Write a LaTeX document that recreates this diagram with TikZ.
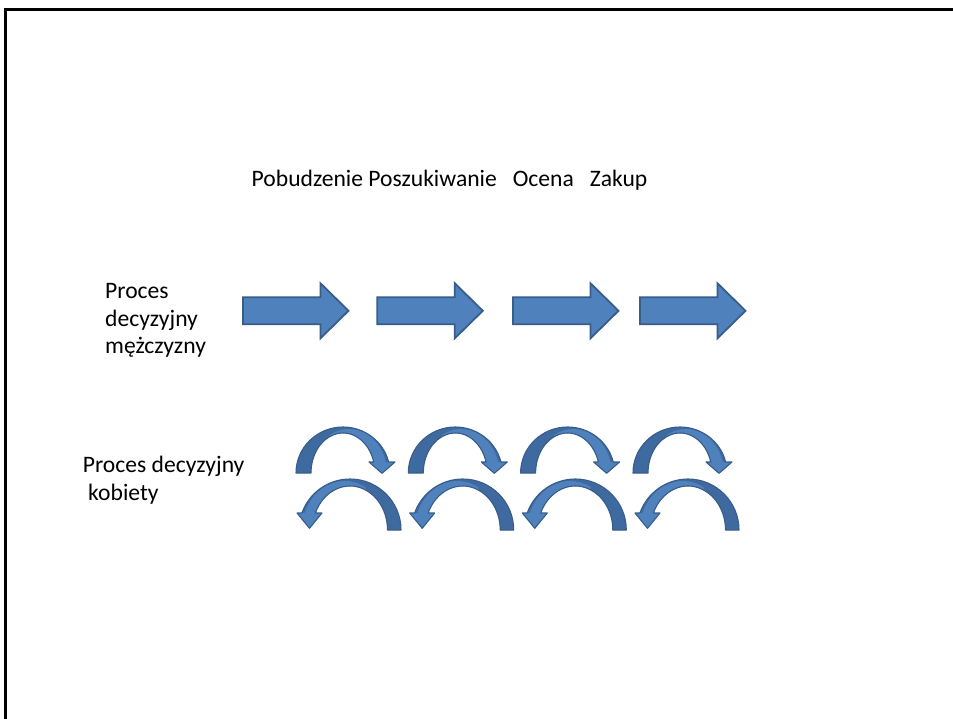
\documentclass[tikz,border=0pt]{standalone}
\usepackage{fontspec}
\setmainfont{Carlito}
\definecolor{clight}{HTML}{4F81BD}
\definecolor{cdark}{HTML}{3F6A9F}
\definecolor{cedge}{HTML}{385D8A}
\tikzset{
  straightarrow/.style={fill=clight, draw=cedge, line width=1.8pt, line join=miter},
  edgeline/.style={draw=cedge, line width=1.1pt, line join=round},
  label/.style={inner sep=0pt, font=\fontsize{23.6}{27.5}\selectfont, align=left}
}
\newcommand\sarrow[1]{%
  \draw[straightarrow] (#1,297.3) -- ++(77.5,0) -- ++(0,-14) -- ++(28,27.5) -- ++(-28,27.5) -- ++(0,-14) -- ++(-77.5,0) -- cycle;}
\newcommand\toparrow[1]{%
  \begin{scope}[shift={(#1,473)}, yscale=-1]
    \fill[cdark] (-47,0) arc[start angle=180,end angle=13.83,x radius=47,y radius=46] -- (52,11) -- (39,-0.3) -- (26,11) -- (30.77,11) arc[start angle=15.96,end angle=180,x radius=32,y radius=40] -- cycle;
    \fill[clight] (-13.52,36.25) arc[start angle=115,end angle=15.96,x radius=32,y radius=40] -- (26,11) -- (39,-0.3) -- (52,11) -- (42.79,11) arc[start angle=14.48,end angle=121,x radius=38,y radius=44] -- cycle;
    \draw[edgeline] (-47,0) arc[start angle=180,end angle=13.83,x radius=47,y radius=46] -- (52,11) -- (39,-0.3) -- (26,11) -- (30.77,11) arc[start angle=15.96,end angle=180,x radius=32,y radius=40] -- cycle;
  \end{scope}}
\newcommand\botarrow[1]{%
  \begin{scope}[shift={(#1,530)}, xscale=-1, yscale=-1]
    \fill[cdark] (-51,0) arc[start angle=180,end angle=19.47,x radius=51,y radius=51] -- (53,17) -- (40.5,1.7) -- (28,17) -- (34.59,17) arc[start angle=22.73,end angle=180,x radius=37.5,y radius=44] -- cycle;
    \fill[clight] (-15.85,39.88) arc[start angle=115,end angle=22.73,x radius=37.5,y radius=44] -- (28,17) -- (40.5,1.7) -- (53,17) -- (45.35,17) arc[start angle=20.3,end angle=119.6,x radius=42.75,y radius=49] -- cycle;
    \draw[edgeline] (-51,0) arc[start angle=180,end angle=19.47,x radius=51,y radius=51] -- (53,17) -- (40.5,1.7) -- (28,17) -- (34.59,17) arc[start angle=22.73,end angle=180,x radius=37.5,y radius=44] -- cycle;
  \end{scope}}
\begin{document}
\begin{tikzpicture}[x=1pt,y=-1pt]
  \useasboundingbox (0,0) rectangle (953,719);
  \fill[white] (0,0) rectangle (953,719);
  \draw[black, line width=3pt] (5.5,719) -- (5.5,9.5) -- (953,9.5);
  \node[label, anchor=base west] (stages) at (251.5,186.7) {Pobudzenie Poszukiwanie~~~Ocena~~~Zakup};
  \node[label, anchor=base west] (men) at (105,353.5) {Proces\\decyzyjny\\mężczyzny};
  \node[label, anchor=base west] (women) at (82.7,500) {Proces decyzyjny\\~kobiety};
  \sarrow{243}
  \sarrow{377.3}
  \sarrow{513}
  \sarrow{640}
  \toparrow{343}
  \toparrow{455.3}
  \toparrow{567.6}
  \toparrow{680}
  \botarrow{350}
  \botarrow{462.7}
  \botarrow{575.3}
  \botarrow{688}
\end{tikzpicture}
\end{document}
